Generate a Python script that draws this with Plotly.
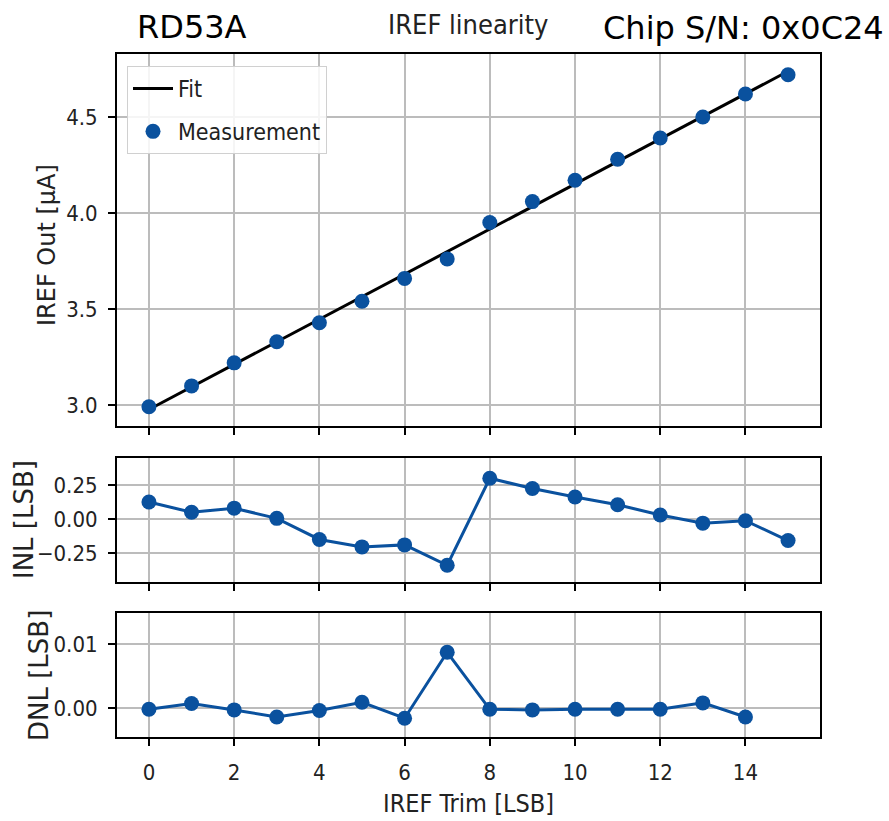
import numpy as np
import plotly.graph_objects as go

# ---- data ----
trim = list(range(16))
iref_out = [2.990, 3.099, 3.219, 3.329, 3.428, 3.540, 3.659, 3.760,
            3.950, 4.059, 4.170, 4.280, 4.390, 4.500, 4.620, 4.720]
iref_err = [0.012] * 16
inl = [0.125, 0.05, 0.08, 0.005, -0.15, -0.205, -0.19, -0.34,
       0.30, 0.225, 0.162, 0.105, 0.03, -0.03, -0.012, -0.158]
dnl_trim = list(range(15))
dnl = [-0.0002, 0.0007, -0.0003, -0.0014, -0.0004, 0.0009, -0.0016, 0.0087,
       -0.0002, -0.0003, -0.0002, -0.0002, -0.0002, 0.0008, -0.0014]

x_ticks = [0, 2, 4, 6, 8, 10, 12, 14]
top_ticks = [3.0, 3.5, 4.0, 4.5]
top_ticklabels = ["3.0", "3.5", "4.0", "4.5"]
inl_ticks = [-0.25, 0.0, 0.25]
inl_ticklabels = ["\u22120.25", "0.00", "0.25"]
dnl_ticks = [0.0, 0.01]
dnl_ticklabels = ["0.00", "0.01"]

slope, intercept = np.polyfit(trim, iref_out, 1)
fit_vals = [intercept + slope * t for t in trim]

BLUE = "#0a519e"
COND = "DejaVu Sans Condensed, Liberation Sans Narrow, DejaVu Sans"
REG = "DejaVu Sans"
W, H = 889, 821

fig = go.Figure()
fig.add_trace(go.Scatter(x=trim, y=fit_vals, mode="lines", name="Fit",
                         line=dict(color="black", width=3),
                         xaxis="x", yaxis="y", legendgroup="a"))
fig.add_trace(go.Scatter(x=trim, y=iref_out, mode="markers", name="Measurement",
                         marker=dict(color=BLUE, size=15),
                         error_y=dict(type="data", array=iref_err, color=BLUE,
                                      thickness=2.5, width=0),
                         xaxis="x", yaxis="y", legendgroup="b"))
fig.add_trace(go.Scatter(x=trim, y=inl, mode="lines+markers", showlegend=False,
                         line=dict(color=BLUE, width=3),
                         marker=dict(color=BLUE, size=15),
                         xaxis="x2", yaxis="y2"))
fig.add_trace(go.Scatter(x=dnl_trim, y=dnl, mode="lines+markers", showlegend=False,
                         line=dict(color=BLUE, width=3),
                         marker=dict(color=BLUE, size=15),
                         xaxis="x3", yaxis="y3"))

xdom = [117 / W, 820 / W]
def ydom(top, bot):
    return [1 - bot / H, 1 - top / H]

axis_common = dict(showline=True, linecolor="black", linewidth=2, mirror=True,
                   ticks="outside", ticklen=7, tickwidth=1.8, tickcolor="black",
                   showgrid=True, gridcolor="#bcbcbc", gridwidth=1.6,
                   zeroline=False, tickfont=dict(family=COND, size=22, color="#222"))

xcommon = dict(axis_common, range=[-0.75, 15.75], tickvals=x_ticks, domain=xdom)

fig.update_layout(
    width=W, height=H, margin=dict(l=0, r=0, t=0, b=0),
    paper_bgcolor="white", plot_bgcolor="white",
    xaxis=dict(xcommon, anchor="y", showticklabels=False),
    xaxis2=dict(xcommon, anchor="y2", showticklabels=False, matches="x"),
    xaxis3=dict(xcommon, anchor="y3", showticklabels=True, matches="x",
                ticklabelstandoff=8),
    yaxis=dict(axis_common, domain=ydom(54, 426), range=[2.89, 4.828],
               tickvals=top_ticks, ticktext=top_ticklabels, anchor="x",
               ticklabelstandoff=6),
    yaxis2=dict(axis_common, domain=ydom(458, 582), range=[-0.463, 0.449],
                tickvals=inl_ticks, ticktext=inl_ticklabels, anchor="x2",
                ticklabelstandoff=6),
    yaxis3=dict(axis_common, domain=ydom(613, 737), range=[-0.00453, 0.01484],
                tickvals=dnl_ticks, ticktext=dnl_ticklabels, anchor="x3",
                ticklabelstandoff=6),
    legend=dict(x=127 / W, y=1 - 66 / H, xanchor="left", yanchor="top",
                bgcolor="rgba(255,255,255,0.85)", bordercolor="#d0d0d0",
                borderwidth=1, font=dict(family=COND, size=23, color="#222"),
                tracegroupgap=10, traceorder="grouped", itemwidth=40),
    showlegend=True,
)

ann = [
    dict(text="RD53A", x=192 / W, y=1 - 27 / H, font=dict(family=REG, size=32, color="black")),
    dict(text="IREF linearity", x=468 / W, y=1 - 25 / H, font=dict(family=COND, size=27, color="#222")),
    dict(text="Chip S/N: 0x0C24", x=886 / W, y=1 - 28 / H, xanchor="right",
         font=dict(family=REG, size=32, color="black")),
    dict(text="IREF Trim [LSB]", x=468 / W, y=1 - 803 / H, font=dict(family=COND, size=25, color="#222")),
    dict(text="IREF Out [\u03bcA]", x=47 / W, y=1 - 245 / H, textangle=-90,
         font=dict(family=REG, size=24, color="#222")),
    dict(text="INL [LSB]", x=24 / W, y=1 - 520 / H, textangle=-90,
         font=dict(family=REG, size=26, color="#222")),
    dict(text="DNL [LSB]", x=39 / W, y=1 - 676 / H, textangle=-90,
         font=dict(family=REG, size=26, color="#222")),
]
for a in ann:
    a.setdefault("xanchor", "center")
    a.update(xref="paper", yref="paper", yanchor="middle", showarrow=False)
fig.update_layout(annotations=ann)

fig.write_html("out.html")
